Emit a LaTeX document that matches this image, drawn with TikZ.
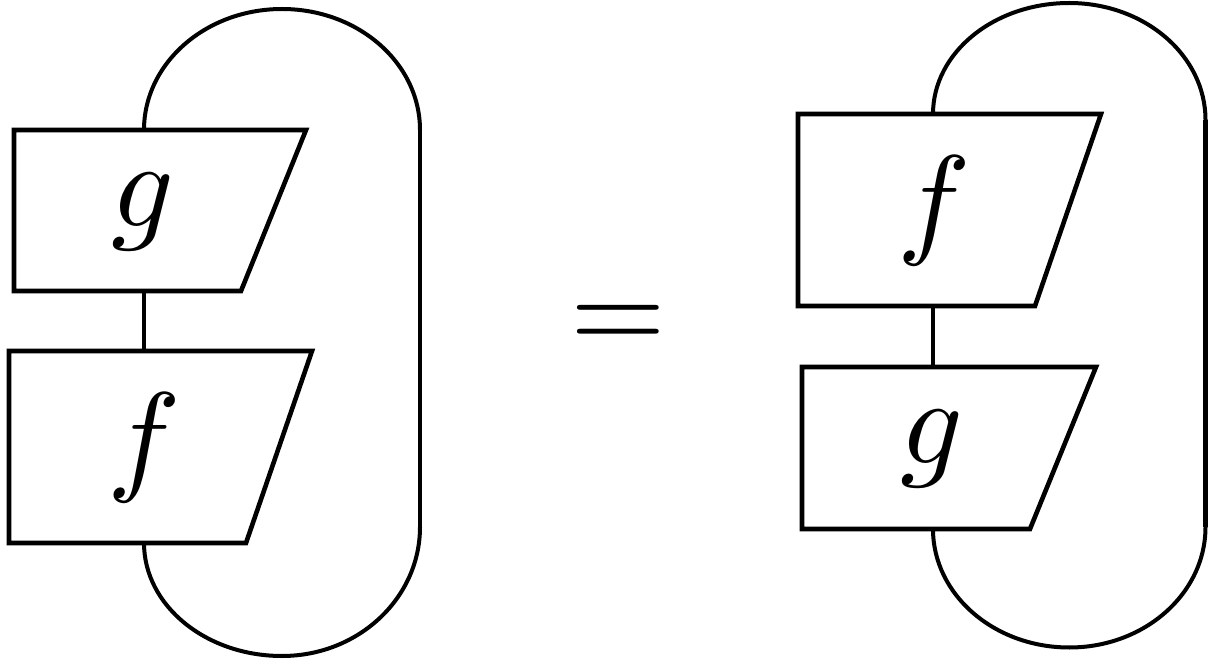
\documentclass[tikz,border=0pt]{standalone}
\begin{document}
\begin{tikzpicture}[x=1pt,y=-1pt,
  wire/.style={line width=4pt},
  boxline/.style={line width=4.6pt, line join=miter},
  lbl/.style={font=\fontsize{10}{12}\selectfont, scale=12.3, inner sep=0pt, anchor=base}]
\useasboundingbox (0,0) rectangle (1208,660);
% ---------- left side ----------
\coordinate (Lgt) at (144,130);
\coordinate (Lgb) at (144,291);
\coordinate (Lft) at (144,351);
\coordinate (Lfb) at (144,543);
\coordinate (Lrb) at (420,527);
\draw[boxline] (14,130) -- (306,130) -- (241,291) -- (14,291) -- cycle;
\draw[boxline] (9,351) -- (312,351) -- (246,543) -- (9,543) -- cycle;
\node[lbl] (Lg) at (143,227) {$g$};
\node[lbl] (Lf) at (144,478) {$f$};
\draw[wire] (Lgb) -- (Lft);
\draw[wire] (Lgt) arc[start angle=180,end angle=90,x radius=138pt,y radius=121pt]
  arc[start angle=90,end angle=0,x radius=138pt,y radius=121pt] coordinate (Lrt);
\draw[line width=4.8pt] (Lrt) -- (Lrb);
\draw[wire] (Lrb) arc[start angle=0,end angle=-90,x radius=138pt,y radius=129pt]
  arc[start angle=-90,end angle=-180,x radius=138pt,y radius=113pt];
% ---------- equals ----------
\node[lbl] (eq) at (618,351) {$=$};
% ---------- right side ----------
\coordinate (Rft) at (933,114);
\coordinate (Rfb) at (933,306);
\coordinate (Rgt) at (933,367);
\coordinate (Rgb) at (933,529);
\coordinate (Rrb) at (1205.5,527);
\draw[boxline] (798,114) -- (1101,114) -- (1035,306) -- (798,306) -- cycle;
\draw[boxline] (802,367) -- (1096,367) -- (1030,529) -- (802,529) -- cycle;
\node[lbl] (Rf) at (934.5,242) {$f$};
\node[lbl] (Rg) at (932,463) {$g$};
\draw[wire] (Rfb) -- (Rgt);
\draw[wire] (Rft) arc[start angle=180,end angle=90,x radius=136.25pt,y radius=111pt]
  arc[start angle=90,end angle=0,x radius=136.25pt,y radius=117pt] coordinate (Rrt);
\draw[line width=4.8pt] (Rrt) -- (Rrb);
\draw[wire] (Rrb) arc[start angle=0,end angle=-90,x radius=136.25pt,y radius=120.5pt]
  arc[start angle=-90,end angle=-180,x radius=136.25pt,y radius=118.5pt];
\end{tikzpicture}
\end{document}
